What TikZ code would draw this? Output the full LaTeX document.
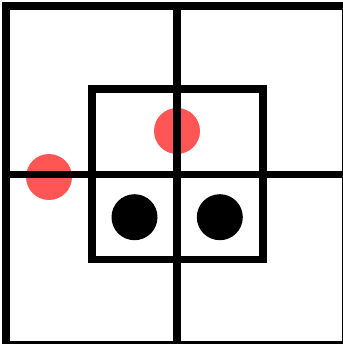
\documentclass[tikz,border=0pt]{standalone}
\usepackage{xcolor}
\usepackage{tikz}
\definecolor{markred}{RGB}{255,85,85}

\begin{document}
\begin{tikzpicture}[x=0.25mm,y=-0.25mm,
    gridline/.style={line width=1.9mm,black},
    reddot/.style={circle,fill=markred,inner sep=0pt,minimum size=11.5mm},
    blackdot/.style={circle,fill=black,inner sep=0pt,minimum size=11.5mm}]
  % picture frame in pixels of the 342x344 image, y pointing down
  \useasboundingbox (0,0) rectangle (342,344);

  % red marks sit under the grid lines
  \node[reddot] (redtop) at (177,131) {};
  \node[reddot] (redleft) at (49,177) {};

  % outer frame, cut at the right and bottom edges
  \draw[gridline] (6,6) rectangle (345.5,345);
  \draw[gridline] (177,6) -- (177,345);
  \draw[gridline] (6,174.7) -- (345.5,174.7);

  % inner window of one cell each way round the centre
  \draw[gridline] (92,89.2) rectangle (263,259.5);

  \foreach \x/\name in {134.5/blackleft,219.8/blackright}{
    \node[blackdot] (\name) at (\x,217.2) {};
  }
\end{tikzpicture}
\end{document}
